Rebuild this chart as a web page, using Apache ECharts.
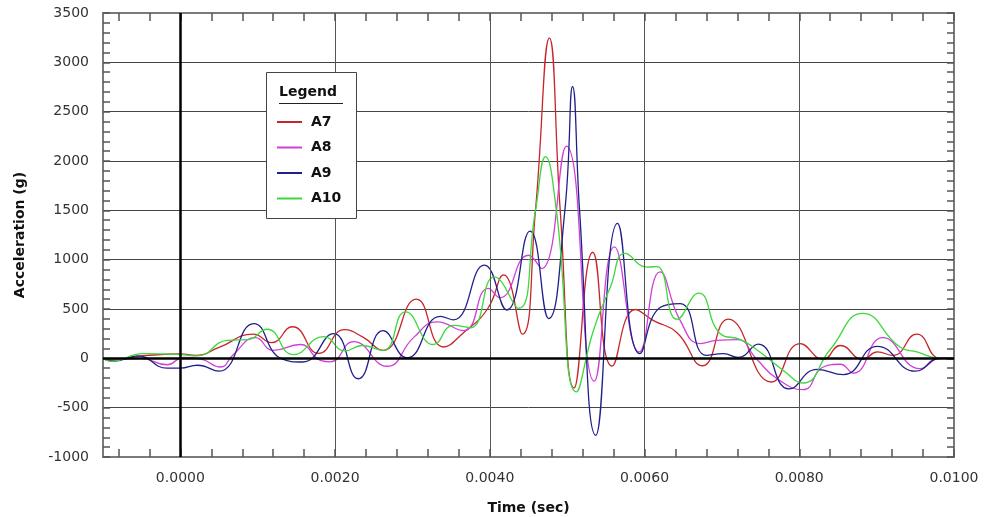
<!DOCTYPE html>
<html>
<head>
<meta charset="utf-8">
<script src="https://cdn.jsdelivr.net/npm/echarts@6/dist/echarts.min.js"></script>
<style>
html,body{margin:0;padding:0;background:#fff;}
#chart{width:992px;height:517px;}
</style>
</head>
<body>
<div id="chart"></div>
<script>
// time in milliseconds, acceleration in g
const seriesNames = ['A7', 'A8', 'A9', 'A10'];
const seriesColors = ['#c8252a', '#d040d8', '#20208c', '#3cd83c'];

const a7 = [[-1.0,0],[-0.9,-20],[-0.7,0],[-0.5,25],[-0.2,40],[0.0,45],[0.2,30],[0.5,110],[0.94,245],[1.18,160],[1.45,320],[1.79,50],[2.12,290],[2.36,215],[2.62,80],[3.05,600],[3.40,115],[3.66,260],[3.97,500],[4.18,845],[4.42,245],[4.59,1500],[4.77,3245],[4.91,1500],[5.09,-300],[5.33,1075],[5.58,-78],[5.88,495],[6.11,385],[6.42,260],[6.75,-75],[7.08,398],[7.64,-240],[8.01,150],[8.31,-10],[8.53,130],[8.82,-10],[9.01,65],[9.21,30],[9.52,245],[9.82,0],[10.0,0]];

const a8 = [[-1.0,0],[-0.8,-10],[-0.52,0],[-0.17,-65],[0.04,10],[0.26,-5],[0.52,-88],[0.68,35],[0.97,210],[1.2,80],[1.55,140],[1.81,-20],[1.94,-35],[2.24,170],[2.67,-80],[3.02,215],[3.32,370],[3.66,280],[3.98,710],[4.13,615],[4.50,1045],[4.67,910],[4.99,2150],[5.35,-232],[5.61,1130],[5.93,65],[6.20,876],[6.46,385],[6.72,150],[6.94,183],[7.20,190],[7.45,-10],[7.71,-205],[8.05,-318],[8.31,-88],[8.53,-60],[8.70,-150],[9.08,210],[9.56,-105],[9.82,0],[10.0,0]];

const a9 = [[-1.0,0],[-0.87,-30],[-0.55,25],[-0.17,-100],[0.0,-100],[0.22,-70],[0.50,-130],[0.95,352],[1.30,0],[1.58,-37],[1.98,250],[2.30,-207],[2.62,280],[2.93,5],[3.36,425],[3.53,390],[3.93,945],[4.22,490],[4.52,1290],[4.76,403],[4.97,1500],[5.07,2755],[5.16,1500],[5.37,-780],[5.65,1367],[5.94,48],[6.20,515],[6.46,555],[6.80,30],[7.02,48],[7.21,10],[7.47,145],[7.87,-310],[8.23,-112],[8.57,-165],[9.01,122],[9.50,-130],[9.82,0],[10.0,0]];

const a10 = [[-1.0,0],[-0.9,-30],[-0.48,48],[0.0,38],[0.22,25],[0.61,183],[0.87,190],[1.12,295],[1.46,37],[1.85,220],[2.13,75],[2.35,130],[2.62,80],[2.91,470],[3.27,140],[3.53,335],[3.75,310],[4.06,825],[4.37,505],[4.59,1500],[4.72,2045],[4.86,1500],[5.12,-340],[5.34,285],[5.56,725],[5.75,1063],[6.03,925],[6.16,930],[6.42,395],[6.70,660],[6.98,250],[7.24,190],[7.49,65],[7.79,-120],[8.05,-250],[8.40,90],[8.82,455],[9.30,115],[9.52,65],[9.82,0],[10.0,0]];

const xLabelValues = [0, 2, 4, 6, 8, 10];
const xTickValues = [-0.8,-0.4,0,0.4,0.8,1.2,1.6,2.0,2.4,2.8,3.2,3.6,4.0,4.4,4.8,5.2,5.6,6.0,6.4,6.8,7.2,7.6,8.0,8.4,8.8,9.2,9.6,10.0];
const xGridValues = [2, 4, 6, 8];
const xMin = -1, xMax = 10;
const yMin = -1000, yMax = 3500, yStep = 500;

const FONT = 'DejaVu Sans';
const frameColor = '#7a7a7a';

const chart = echarts.init(document.getElementById('chart'), null, {renderer: 'canvas'});

const dataSets = [a7, a8, a9, a10];
const lineSeries = dataSets.map((d, i) => ({
  name: seriesNames[i],
  type: 'line',
  data: d,
  smooth: 0.5,
  symbol: 'none',
  z: 3,
  lineStyle: {color: seriesColors[i], width: 1.3},
  itemStyle: {color: seriesColors[i]},
  animation: false
}));

const xAxisCommon = {
  type: 'value', min: xMin, max: xMax, gridIndex: 0,
  axisLine: {show: true, onZero: false, lineStyle: {color: frameColor, width: 2}},
  axisTick: {show: true, inside: true, length: 8, customValues: xTickValues, lineStyle: {color: '#555', width: 1.5}},
  splitLine: {show: false}
};

chart.setOption({
  backgroundColor: '#ffffff',
  animation: false,
  textStyle: {fontFamily: FONT},
  grid: {left: 103, top: 13, width: 851, height: 444, containLabel: false, outerBoundsMode: 'none'},
  legend: {
    data: seriesNames,
    orient: 'vertical',
    left: 277, top: 115,
    padding: 0,
    itemWidth: 25, itemHeight: 2, itemGap: 11.5,
    icon: 'rect',
    z: 20,
    textStyle: {fontFamily: FONT, fontWeight: 'bold', fontSize: 14, color: '#111', padding: [0, 0, 0, 4]}
  },
  graphic: [
    {type: 'rect', left: 266, top: 72, z: 15, shape: {width: 90, height: 146}, style: {fill: '#fff', stroke: '#444', lineWidth: 1}},
    {type: 'text', left: 279, top: 85, z: 16, style: {text: 'Legend', font: 'bold 14px "DejaVu Sans"', fill: '#111'}},
    {type: 'line', z: 16, shape: {x1: 279, y1: 103.5, x2: 343, y2: 103.5}, style: {stroke: '#222', lineWidth: 1}}
  ],
  xAxis: [
    Object.assign({}, xAxisCommon, {
      position: 'bottom',
      name: 'Time (sec)', nameLocation: 'middle', nameGap: 44,
      nameTextStyle: {fontFamily: FONT, fontWeight: 'bold', fontSize: 14, color: '#111'},
      axisLabel: {show: true, customValues: xLabelValues, margin: 14, fontSize: 14, color: '#333', fontFamily: FONT,
        formatter: v => (v / 1000).toFixed(4)}
    }),
    Object.assign({}, xAxisCommon, {position: 'top', axisLabel: {show: false}})
  ],
  yAxis: [
    {
      type: 'value', min: yMin, max: yMax, interval: yStep, position: 'left',
      name: 'Acceleration (g)', nameLocation: 'middle', nameGap: 76, nameRotate: 90,
      nameTextStyle: {fontFamily: FONT, fontWeight: 'bold', fontSize: 14, color: '#111'},
      axisLine: {show: true, onZero: false, lineStyle: {color: frameColor, width: 2}},
      axisTick: {show: true, inside: true, length: 7, lineStyle: {color: '#555', width: 1.5}},
      minorTick: {show: true, splitNumber: 5, length: 7, lineStyle: {color: '#555', width: 1.5}},
      axisLabel: {margin: 14, fontSize: 14, color: '#333', fontFamily: FONT, formatter: v => String(v)},
      splitLine: {show: true, lineStyle: {color: '#444', width: 1}}
    },
    {
      type: 'value', min: yMin, max: yMax, interval: yStep, position: 'right',
      axisLine: {show: true, onZero: false, lineStyle: {color: frameColor, width: 2}},
      axisTick: {show: true, inside: true, length: 7, lineStyle: {color: '#555', width: 1.5}},
      minorTick: {show: true, splitNumber: 5, length: 7, lineStyle: {color: '#555', width: 1.5}},
      axisLabel: {show: false},
      splitLine: {show: false}
    }
  ],
  series: [
    {
      name: 'grid', type: 'line', data: [], z: 1, silent: true,
      markLine: {
        silent: true, symbol: 'none', label: {show: false}, animation: false,
        data: xGridValues.map(v => ({xAxis: v, lineStyle: {color: '#555', width: 1, type: 'solid'}}))
          .concat([
            {xAxis: 0, lineStyle: {color: '#000', width: 2.5, type: 'solid'}},
            {yAxis: 0, lineStyle: {color: '#000', width: 2.5, type: 'solid'}}
          ])
      }
    }
  ].concat(lineSeries)
});
</script>
</body>
</html>
